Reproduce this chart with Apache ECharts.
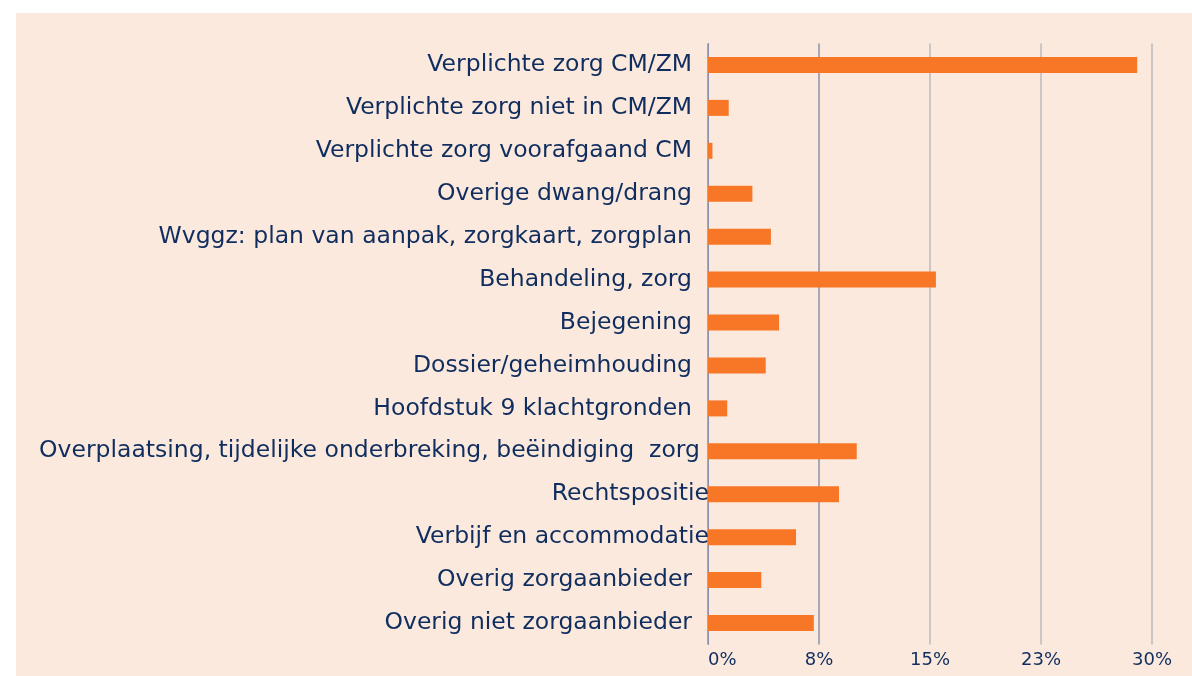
<!DOCTYPE html>
<html>
<head>
<meta charset="utf-8">
<script src="https://cdn.jsdelivr.net/npm/echarts@6/dist/echarts.min.js"></script>
<style>
  html, body { margin: 0; padding: 0; background: #ffffff; }
  #wrap { position: absolute; left: 16px; top: 13px; width: 1176px; height: 663px; background: #fce9dd; }
  #chart { width: 100%; height: 100%; }
</style>
</head>
<body>
<div id="wrap"><div id="chart"></div></div>
<script>
const categories = [
  'Verplichte zorg CM/ZM',
  'Verplichte zorg niet in CM/ZM',
  'Verplichte zorg voorafgaand CM',
  'Overige dwang/drang',
  'Wvggz: plan van aanpak, zorgkaart, zorgplan',
  'Behandeling, zorg',
  'Bejegening',
  'Dossier/geheimhouding',
  'Hoofdstuk 9 klachtgronden',
  'Overplaatsing, tijdelijke onderbreking, beëindiging  zorg',
  'Rechtspositie',
  'Verbijf en accommodatie',
  'Overig zorgaanbieder',
  'Overig niet zorgaanbieder'
];
const percentages = [29.0, 1.4, 0.3, 3.0, 4.25, 15.4, 4.8, 3.9, 1.3, 10.05, 8.85, 5.95, 3.6, 7.15];
const tickValues = [0, 7.5, 15, 22.5, 30];

// labels that sit closer to the axis than the rest (as in the original)
const tightLabels = ['Rechtspositie', 'Verbijf en accommodatie'];
const halfTightLabels = ['Overplaatsing, tijdelijke onderbreking, beëindiging  zorg'];

const chart = echarts.init(document.getElementById('chart'));
const textColor = '#0f2d5e';
const font = '"DejaVu Sans", Verdana, sans-serif';
const labelSize = 23.5;

chart.setOption({
  animation: false,
  grid: { left: 692, right: 40, top: 30.5, bottom: 31.5 },
  xAxis: {
    type: 'value',
    min: 0,
    max: 30,
    interval: tickValues[1] - tickValues[0],
    axisLine: { show: false },
    axisTick: { show: false },
    axisLabel: {
      color: textColor,
      fontFamily: font,
      fontSize: 18,
      margin: 7,
      alignMinLabel: 'left',
      formatter: v => Math.round(v) + '%'
    },
    splitLine: {
      show: true,
      lineStyle: { width: 1.5, color: ['#8a90ac', '#8a90ac', '#bdb8bc', '#bdb8bc', '#bdb8bc'] }
    }
  },
  yAxis: {
    type: 'category',
    inverse: true,
    data: categories,
    axisLine: { show: true, lineStyle: { color: '#8a90ac', width: 1 } },
    axisTick: { show: false },
    axisLabel: {
      margin: -1,
      color: textColor,
      fontFamily: font,
      fontSize: labelSize,
      formatter: v => {
        if (tightLabels.includes(v)) return '{t|' + v + '}';
        if (halfTightLabels.includes(v)) return '{h|' + v + '}';
        return '{n|' + v + '}';
      },
      rich: {
        n: { color: textColor, fontFamily: font, fontSize: labelSize, padding: [0, 17, 0, 0] },
        h: { color: textColor, fontFamily: font, fontSize: labelSize, padding: [0, 9, 0, 0] },
        t: { color: textColor, fontFamily: font, fontSize: labelSize, padding: [0, 0, 0, 0] }
      }
    }
  },
  series: [{
    type: 'bar',
    data: percentages,
    barWidth: 16,
    itemStyle: { color: '#f77726' },
    z: 3
  }]
});
</script>
</body>
</html>
